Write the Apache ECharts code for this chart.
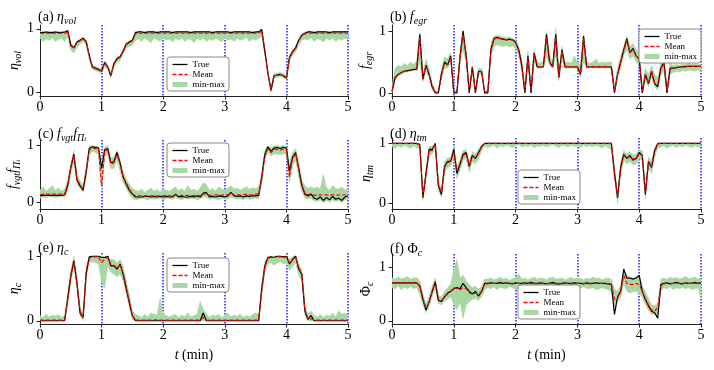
<!DOCTYPE html>
<html>
<head>
<meta charset="utf-8">
<script src="https://cdn.jsdelivr.net/npm/echarts@6/dist/echarts.min.js"></script>
<style>
  html, body { margin: 0; padding: 0; background: #fff; }
  #chart { width: 714px; height: 370px; }
</style>
</head>
<body>
<div id="chart"></div>
<script>
// time axis, minutes
const time = [
  0,0.05,0.1,0.15,0.2,0.25,0.3,0.35,0.4,0.45,
  0.5,0.55,0.6,0.65,0.7,0.75,0.8,0.85,0.9,0.95,
  1,1.05,1.1,1.15,1.2,1.25,1.3,1.35,1.4,1.45,
  1.5,1.55,1.6,1.65,1.7,1.75,1.8,1.85,1.9,1.95,
  2,2.05,2.1,2.15,2.2,2.25,2.3,2.35,2.4,2.45,
  2.5,2.55,2.6,2.65,2.7,2.75,2.8,2.85,2.9,2.95,
  3,3.05,3.1,3.15,3.2,3.25,3.3,3.35,3.4,3.45,
  3.5,3.55,3.6,3.65,3.7,3.75,3.8,3.85,3.9,3.95,
  4,4.05,4.1,4.15,4.2,4.25,4.3,4.35,4.4,4.45,
  4.5,4.55,4.6,4.65,4.7,4.75,4.8,4.85,4.9,4.95,5
];

// (a) eta_vol
const etaVolTrue = [
  0.94,0.94,0.95,0.94,0.94,0.95,0.94,0.94,0.95,0.97,
  0.74,0.7,0.79,0.82,0.85,0.8,0.58,0.4,0.38,0.36,
  0.33,0.47,0.4,0.26,0.45,0.53,0.56,0.65,0.76,0.79,
  0.82,0.94,0.95,0.95,0.94,0.95,0.95,0.95,0.94,0.95,
  0.95,0.95,0.95,0.94,0.95,0.95,0.95,0.95,0.95,0.94,
  0.95,0.95,0.95,0.95,0.95,0.95,0.94,0.95,0.95,0.95,
  0.95,0.95,0.94,0.95,0.95,0.95,0.95,0.95,0.95,0.94,
  0.95,0.95,0.99,0.65,0.3,0.03,0.26,0.27,0.28,0.26,
  0.22,0.55,0.64,0.7,0.82,0.9,0.93,0.95,0.95,0.94,
  0.95,0.95,0.95,0.95,0.94,0.95,0.95,0.95,0.95,0.95,0.95
];
const etaVolMean = [
  0.93,0.93,0.93,0.93,0.93,0.93,0.93,0.93,0.93,0.95,
  0.73,0.7,0.78,0.81,0.84,0.79,0.57,0.4,0.37,0.36,
  0.34,0.46,0.4,0.27,0.44,0.52,0.55,0.64,0.75,0.78,
  0.81,0.92,0.93,0.93,0.93,0.93,0.93,0.93,0.93,0.93,
  0.93,0.93,0.93,0.93,0.93,0.93,0.93,0.93,0.93,0.93,
  0.93,0.93,0.93,0.93,0.93,0.93,0.93,0.93,0.93,0.93,
  0.93,0.93,0.93,0.93,0.93,0.93,0.93,0.93,0.93,0.93,
  0.93,0.93,0.97,0.64,0.3,0.04,0.26,0.27,0.28,0.26,
  0.23,0.54,0.63,0.69,0.81,0.89,0.92,0.93,0.93,0.93,
  0.93,0.93,0.93,0.93,0.93,0.93,0.93,0.93,0.93,0.93,0.93
];
const etaVolMin = [
  0.85,0.8,0.84,0.82,0.86,0.8,0.83,0.85,0.8,0.88,
  0.66,0.62,0.7,0.76,0.8,0.74,0.5,0.36,0.34,0.32,
  0.3,0.4,0.35,0.22,0.4,0.48,0.5,0.6,0.7,0.72,
  0.74,0.82,0.84,0.8,0.86,0.82,0.78,0.85,0.83,0.8,
  0.86,0.82,0.84,0.79,0.85,0.82,0.86,0.8,0.84,0.83,
  0.78,0.85,0.82,0.86,0.8,0.84,0.81,0.85,0.83,0.79,
  0.86,0.82,0.84,0.8,0.85,0.82,0.83,0.87,0.8,0.84,
  0.82,0.85,0.88,0.58,0.25,0,0.22,0.24,0.25,0.23,
  0.2,0.48,0.58,0.64,0.75,0.82,0.84,0.82,0.86,0.8,
  0.84,0.83,0.79,0.85,0.82,0.86,0.8,0.84,0.82,0.85,0.83
];
const etaVolMax = [
  0.96,0.96,0.96,0.96,0.96,0.96,0.96,0.96,0.96,0.99,
  0.78,0.73,0.8,0.84,0.87,0.82,0.6,0.42,0.4,0.38,
  0.36,0.49,0.42,0.28,0.47,0.55,0.58,0.67,0.78,0.81,
  0.84,0.96,0.96,0.96,0.96,0.96,0.96,0.96,0.96,0.96,
  0.96,0.96,0.96,0.96,0.96,0.96,0.96,0.96,0.96,0.96,
  0.96,0.96,0.96,0.96,0.96,0.96,0.96,0.96,0.96,0.96,
  0.96,0.96,0.96,0.96,0.96,0.96,0.96,0.96,0.96,0.96,
  0.96,0.96,1,0.68,0.33,0.05,0.3,0.3,0.31,0.3,
  0.26,0.57,0.66,0.72,0.84,0.92,0.95,0.96,0.96,0.96,
  0.96,0.96,0.96,0.96,0.96,0.96,0.96,0.96,0.96,0.96,0.96
];

// (b) f_egr
const fEgrTrue = [
  0.02,0.25,0.3,0.33,0.35,0.36,0.37,0.38,0.38,0.95,
  0.22,0.45,0.3,0.1,0,0,0.3,0.5,0.45,0.6,
  0,0,0.58,1,0.6,0,0.42,0,0.35,0.35,
  0,0,0.7,0.88,0.9,0.88,0.87,0.86,0.87,0.86,
  0.82,0.7,0.45,0,0.6,0,0.65,0.42,0.42,0.42,
  0.95,0.5,0.42,0.95,0.25,0.7,0.42,0.42,0.42,0.42,
  0.42,0.3,0.92,0.42,0.42,0.42,0.42,0.42,0.42,0.42,
  0.42,0.42,0,0.3,0.5,0.7,0.88,0.65,0.72,0.6,
  0.55,0,0.3,0.15,0.35,0.15,0.1,0.4,0.5,0,
  0.4,0.4,0.41,0.42,0.42,0.43,0.43,0.43,0.43,0.43,0.43
];
const fEgrMean = [
  0.03,0.24,0.3,0.33,0.35,0.36,0.37,0.38,0.39,0.9,
  0.24,0.44,0.3,0.12,0.01,0.01,0.29,0.49,0.46,0.58,
  0.02,0.01,0.57,0.95,0.6,0.02,0.41,0.02,0.35,0.34,
  0.01,0.02,0.68,0.87,0.89,0.88,0.87,0.86,0.86,0.86,
  0.81,0.69,0.45,0.02,0.58,0.03,0.63,0.43,0.42,0.43,
  0.9,0.5,0.43,0.9,0.27,0.68,0.43,0.43,0.42,0.43,
  0.42,0.31,0.88,0.43,0.42,0.43,0.42,0.43,0.42,0.43,
  0.42,0.42,0.02,0.3,0.5,0.68,0.85,0.66,0.7,0.6,
  0.56,0.03,0.3,0.16,0.34,0.16,0.12,0.39,0.48,0.03,
  0.39,0.4,0.41,0.42,0.42,0.42,0.43,0.43,0.43,0.43,0.43
];
const fEgrMin = [
  0,0.2,0.28,0.3,0.33,0.34,0.35,0.36,0.36,0.5,
  0.18,0.35,0.25,0.05,0,0,0.22,0.4,0.4,0.5,
  0,0,0.5,0.7,0.5,0,0.35,0,0.3,0.3,
  0,0,0.6,0.75,0.78,0.76,0.75,0.77,0.74,0.76,
  0.72,0.6,0.35,0,0.45,0,0.5,0.4,0.4,0.41,
  0.6,0.45,0.4,0.6,0.2,0.55,0.4,0.4,0.41,0.4,
  0.4,0.25,0.5,0.4,0.41,0.4,0.41,0.4,0.41,0.4,
  0.41,0.38,0,0.25,0.4,0.6,0.7,0.55,0.6,0.5,
  0.45,0,0.2,0.1,0.25,0.1,0.05,0.3,0.35,0,
  0.3,0.33,0.35,0.34,0.36,0.35,0.37,0.36,0.35,0.37,0.36
];
const fEgrMax = [
  0.1,0.4,0.45,0.42,0.48,0.44,0.5,0.46,0.52,0.98,
  0.3,0.55,0.4,0.15,0.03,0.03,0.4,0.58,0.55,0.65,
  0.05,0.03,0.65,1.02,0.65,0.05,0.45,0.03,0.4,0.4,
  0.03,0.05,0.8,0.92,0.93,0.92,0.9,0.9,0.9,0.88,
  0.86,0.75,0.55,0.1,0.68,0.1,0.7,0.5,0.48,0.52,
  1,0.6,0.5,1.05,0.35,0.75,0.5,0.5,0.48,0.6,
  0.5,0.45,0.95,0.5,0.48,0.5,0.55,0.48,0.5,0.49,
  0.5,0.5,0.1,0.4,0.6,0.75,0.92,0.75,0.8,0.7,
  0.65,0.1,0.4,0.3,0.45,0.3,0.25,0.5,0.6,0.1,
  0.48,0.45,0.46,0.45,0.47,0.46,0.48,0.46,0.47,0.46,0.47
];

// (c) f_vgt f_Pi_t
const fvgtTrue = [
  0.12,0.13,0.13,0.13,0.13,0.13,0.13,0.13,0.14,0.3,
  0.62,0.85,0.4,0.3,0.22,0.55,0.95,0.98,0.97,0.96,
  0.6,0.93,0.95,0.7,0.72,0.88,0.7,0.45,0.33,0.22,
  0.15,0.1,0.1,0.1,0.11,0.11,0.1,0.11,0.1,0.11,
  0.1,0.11,0.1,0.1,0.15,0.1,0.11,0.1,0.1,0.11,
  0.1,0.12,0.1,0.17,0.18,0.1,0.11,0.1,0.12,0.11,
  0.1,0.12,0.18,0.12,0.11,0.12,0.1,0.12,0.11,0.12,
  0.12,0.13,0.45,0.85,0.98,0.9,0.96,0.97,0.95,0.97,
  0.96,0.55,0.8,0.88,0.6,0.3,0.15,0.12,0.15,0.08,
  0.06,0.1,0.04,0.09,0.05,0.11,0.06,0.08,0.04,0.1,0.12
];
const fvgtMean = [
  0.14,0.15,0.15,0.15,0.15,0.15,0.15,0.15,0.15,0.32,
  0.62,0.83,0.42,0.31,0.24,0.55,0.93,0.96,0.95,0.94,
  0.3,0.9,0.93,0.68,0.7,0.85,0.68,0.45,0.35,0.24,
  0.16,0.12,0.12,0.12,0.12,0.12,0.12,0.12,0.12,0.12,
  0.12,0.13,0.12,0.13,0.14,0.12,0.13,0.12,0.13,0.12,
  0.13,0.13,0.12,0.15,0.16,0.13,0.13,0.14,0.14,0.13,
  0.14,0.14,0.17,0.14,0.14,0.14,0.14,0.15,0.14,0.14,
  0.15,0.15,0.42,0.82,0.95,0.88,0.93,0.94,0.92,0.94,
  0.93,0.45,0.78,0.86,0.6,0.32,0.17,0.14,0.16,0.13,
  0.13,0.14,0.13,0.14,0.13,0.14,0.13,0.14,0.13,0.14,0.14
];
const fvgtMin = [
  0.08,0.1,0.09,0.11,0.1,0.09,0.1,0.11,0.1,0.2,
  0.52,0.72,0.32,0.25,0.18,0.45,0.85,0.9,0.88,0.85,
  0.2,0.82,0.85,0.6,0.6,0.75,0.55,0.35,0.25,0.15,
  0.08,0.05,0.06,0.08,0.07,0.05,0.08,0.06,0.07,0.08,
  0.05,0.07,0.08,0.06,0.09,0.07,0.05,0.08,0.06,0.07,
  0.08,0.05,0.07,0.1,0.1,0.06,0.08,0.07,0.05,0.08,
  0.06,0.07,0.1,0.08,0.06,0.07,0.05,0.08,0.06,0.07,
  0.08,0.07,0.35,0.75,0.88,0.82,0.86,0.85,0.84,0.86,
  0.85,0.35,0.65,0.75,0.45,0.2,0.08,0.07,0.08,0.03,
  0.02,0.05,0,0.04,0.01,0.05,0.02,0.04,0,0.05,0.06
];
const fvgtMax = [
  0.22,0.28,0.2,0.25,0.3,0.22,0.26,0.2,0.24,0.38,
  0.7,0.92,0.5,0.38,0.3,0.62,1,1,0.99,0.98,
  0.7,0.98,1,0.78,0.8,0.92,0.75,0.55,0.42,0.32,
  0.25,0.22,0.2,0.24,0.18,0.22,0.26,0.2,0.23,0.19,
  0.25,0.22,0.2,0.24,0.28,0.21,0.25,0.2,0.3,0.22,
  0.24,0.2,0.26,0.35,0.32,0.22,0.25,0.2,0.28,0.24,
  0.22,0.26,0.3,0.24,0.26,0.22,0.25,0.28,0.24,0.26,
  0.25,0.27,0.55,0.92,1,0.96,1,1,0.99,1,
  0.99,0.7,0.88,0.95,0.7,0.4,0.3,0.25,0.28,0.25,
  0.28,0.24,0.5,0.26,0.22,0.3,0.25,0.24,0.28,0.22,0.26
];

// (d) eta_tm
const etaTmTrue = [
  1,1,1,1,1,1,1,1,1,0.98,
  0.1,0.5,0.9,0.9,1,0.3,0.15,0.62,0.7,0.7,
  0.9,0.5,0.65,0.82,0.85,0.62,0.8,0.75,0.85,0.95,
  1,1,1,1,1,1,1,1,1,1,
  1,1,1,1,1,1,1,1,1,1,
  1,1,1,1,1,1,1,1,1,1,
  1,1,1,1,1,1,1,1,1,1,
  1,1,0.5,0.1,0.6,0.82,0.75,0.8,0.72,0.75,
  0.85,0.8,0.15,0.7,0.6,0.88,1,1,1,1,
  1,1,1,1,1,1,1,1,1,1,1
];
const etaTmMean = [
  1,1,1,1,1,1,1,1,1,0.97,
  0.12,0.48,0.88,0.88,0.99,0.32,0.18,0.6,0.68,0.7,
  0.85,0.55,0.66,0.8,0.83,0.64,0.78,0.76,0.83,0.94,
  1,1,1,1,1,1,1,1,1,1,
  1,1,1,1,1,1,1,1,1,1,
  1,1,1,1,1,1,1,1,1,1,
  1,1,1,1,1,1,1,1,1,1,
  1,1,0.52,0.12,0.58,0.8,0.76,0.78,0.74,0.75,
  0.82,0.8,0.18,0.68,0.62,0.86,0.99,1,1,1,
  1,1,1,1,1,1,1,1,1,1,1
];
const etaTmMin = [
  0.95,0.92,0.96,0.93,0.97,0.94,0.92,0.96,0.93,0.9,
  0.05,0.4,0.8,0.82,0.92,0.22,0.1,0.52,0.6,0.62,
  0.78,0.42,0.55,0.72,0.75,0.52,0.7,0.66,0.75,0.88,
  0.96,0.93,0.95,0.97,0.92,0.96,0.94,0.97,0.95,0.93,
  0.96,0.98,0.94,0.96,0.95,0.97,0.93,0.96,0.95,0.97,
  0.94,0.96,0.98,0.95,0.93,0.97,0.96,0.94,0.97,0.95,
  0.96,0.93,0.97,0.95,0.96,0.94,0.97,0.95,0.92,0.96,
  0.93,0.9,0.4,0,0.5,0.72,0.66,0.7,0.64,0.66,
  0.75,0.7,0.08,0.6,0.5,0.78,0.92,0.94,0.96,0.92,
  0.95,0.97,0.93,0.96,0.94,0.97,0.95,0.93,0.96,0.94,0.95
];
const etaTmMax = [
  1,1,1,1,1,1,1,1,1,1,
  0.15,0.58,0.95,0.95,1,0.38,0.25,0.7,0.76,0.76,
  0.95,0.62,0.72,0.88,0.9,0.7,0.86,0.82,0.9,0.98,
  1,1,1,1,1,1,1,1,1,1,
  1,1,1,1,1,1,1,1,1,1,
  1,1,1,1,1,1,1,1,1,1,
  1,1,1,1,1,1,1,1,1,1,
  1,1,0.6,0.18,0.68,0.88,0.82,0.86,0.8,0.82,
  0.9,0.88,0.25,0.78,0.7,0.94,1,1,1,1,
  1,1,1,1,1,1,1,1,1,1,1
];

// (e) eta_c
const etaCTrue = [
  0,0,0,0,0,0,0,0,0,0.35,
  0.7,0.93,0.58,0.12,0.05,0.75,0.99,1,1,1,
  0.98,0.98,1,0.85,0.85,0.8,0.88,0.72,0.5,0.28,
  0.08,0,0,0,0,0,0,0,0,0,
  0,0,0,0,0,0,0,0,0,0,
  0,0,0,0.12,0,0,0,0,0,0,
  0,0,0,0,0,0,0,0,0,0,
  0,0,0.5,0.85,0.98,0.99,0.98,1,1,0.99,
  1,0.88,0.95,1,0.8,0.72,0.15,0.02,0.08,0,
  0,0,0,0,0,0,0,0,0,0,0
];
const etaCMean = [
  0.01,0.01,0.01,0.01,0.01,0.01,0.01,0.01,0.01,0.33,
  0.68,0.91,0.58,0.15,0.05,0.72,0.97,0.99,0.99,0.99,
  0.9,0.96,0.98,0.88,0.86,0.82,0.86,0.74,0.52,0.3,
  0.08,0.01,0.01,0.01,0.01,0.01,0.01,0.01,0.02,0.01,
  0.01,0.01,0.01,0.01,0.01,0.01,0.01,0.01,0.01,0.01,
  0.01,0.01,0.01,0.05,0.01,0.01,0.01,0.01,0.01,0.01,
  0.01,0.01,0.01,0.01,0.01,0.01,0.01,0.01,0.01,0.01,
  0.01,0.01,0.48,0.83,0.97,0.98,0.98,0.99,0.99,0.98,
  0.99,0.9,0.94,0.99,0.82,0.73,0.17,0.03,0.03,0.01,
  0.01,0.01,0.01,0.01,0.01,0.01,0.01,0.01,0.01,0.01,0.01
];
const etaCMin = [
  0,0,0,0,0,0,0,0,0,0.25,
  0.6,0.85,0.5,0.08,0,0.65,0.9,0.92,0.9,0.88,
  0.6,0.5,0.85,0.75,0.72,0.68,0.72,0.62,0.42,0.2,
  0.02,0,0,0,0,0,0,0,0,0,
  0,0,0,0,0,0,0,0,0,0,
  0,0,0,0,0,0,0,0,0,0,
  0,0,0,0,0,0,0,0,0,0,
  0,0,0.38,0.75,0.88,0.9,0.86,0.9,0.92,0.88,
  0.9,0.78,0.85,0.9,0.7,0.62,0.08,0,0,0,
  0,0,0,0,0,0,0,0,0,0,0
];
const etaCMax = [
  0.08,0.05,0.1,0.06,0.09,0.07,0.1,0.05,0.08,0.42,
  0.78,1,0.68,0.22,0.12,0.82,1,1,1,1,
  1,1,1,0.95,0.95,0.9,0.95,0.85,0.62,0.4,
  0.15,0.1,0.08,0.05,0.1,0.06,0.12,0.1,0.09,0.35,
  0.1,0.08,0.06,0.08,0.1,0.05,0.09,0.07,0.12,0.06,
  0.08,0.1,0.3,0.18,0.1,0.06,0.09,0.07,0.1,0.05,
  0.08,0.12,0.06,0.09,0.07,0.1,0.05,0.08,0.06,0.1,
  0.12,0.1,0.6,0.92,1,1,1,1,1,1,
  1,0.95,1,1,0.88,0.8,0.25,0.1,0.15,0.08,
  0.06,0.1,0.05,0.09,0.07,0.12,0.06,0.15,0.1,0.12,0.08
];

// (f) Phi_c
const phiCTrue = [
  0.71,0.71,0.71,0.71,0.71,0.71,0.71,0.71,0.71,0.65,
  0.4,0.2,0.35,0.55,0.72,0.38,0.36,0.45,0.52,0.55,
  0.6,0.62,0.6,0.7,0.62,0.55,0.5,0.55,0.46,0.55,
  0.7,0.7,0.71,0.7,0.7,0.72,0.7,0.71,0.7,0.69,
  0.71,0.7,0.7,0.71,0.7,0.72,0.7,0.7,0.71,0.7,
  0.69,0.7,0.72,0.7,0.68,0.7,0.71,0.7,0.7,0.71,
  0.7,0.7,0.69,0.71,0.7,0.7,0.71,0.7,0.7,0.7,
  0.69,0.68,0.12,0.45,0.55,0.97,0.8,0.8,0.78,0.8,
  0.85,0.55,0.4,0.28,0.18,0.15,0.05,0.68,0.7,0.71,
  0.69,0.7,0.72,0.7,0.69,0.71,0.7,0.7,0.72,0.7,0.71
];
const phiCMean = [
  0.71,0.71,0.71,0.71,0.71,0.71,0.71,0.71,0.71,0.66,
  0.42,0.24,0.35,0.55,0.74,0.4,0.38,0.45,0.5,0.55,
  0.62,0.6,0.58,0.62,0.6,0.52,0.5,0.52,0.5,0.55,
  0.68,0.69,0.7,0.7,0.7,0.7,0.7,0.7,0.7,0.7,
  0.7,0.7,0.69,0.7,0.7,0.7,0.7,0.69,0.7,0.7,
  0.7,0.7,0.7,0.69,0.7,0.7,0.7,0.7,0.69,0.7,
  0.7,0.7,0.7,0.7,0.69,0.7,0.7,0.7,0.7,0.69,
  0.7,0.68,0.4,0.42,0.55,0.85,0.7,0.68,0.68,0.7,
  0.68,0.55,0.42,0.3,0.2,0.18,0.25,0.65,0.69,0.7,
  0.7,0.7,0.7,0.7,0.7,0.7,0.7,0.7,0.7,0.7,0.7
];
const phiCMin = [
  0.62,0.6,0.65,0.58,0.63,0.6,0.64,0.6,0.62,0.5,
  0.3,0.15,0.28,0.45,0.6,0.32,0.3,0.38,0.4,0.45,
  0.3,0.2,0.35,0.05,0.3,0.35,0.4,0.42,0.38,0.45,
  0.58,0.62,0.6,0.64,0.58,0.63,0.61,0.6,0.64,0.62,
  0.58,0.6,0.5,0.62,0.6,0.64,0.6,0.58,0.62,0.6,
  0.64,0.61,0.6,0.59,0.6,0.63,0.6,0.64,0.6,0.58,
  0.62,0.6,0.64,0.61,0.6,0.63,0.58,0.6,0.62,0.6,
  0.58,0.55,0.25,0.35,0.45,0.7,0.55,0.52,0.55,0.55,
  0.5,0.45,0.3,0.2,0.12,0.12,0.12,0.55,0.62,0.6,
  0.64,0.58,0.62,0.6,0.63,0.6,0.62,0.58,0.6,0.62,0.4
];
const phiCMax = [
  0.8,0.78,0.82,0.79,0.8,0.83,0.78,0.8,0.81,0.75,
  0.5,0.32,0.45,0.65,0.8,0.48,0.45,0.55,0.62,0.68,
  0.95,1.15,0.8,0.85,0.75,0.68,0.62,0.65,0.58,0.65,
  0.78,0.78,0.8,0.77,0.79,0.82,0.78,0.8,0.76,0.79,
  0.81,0.88,0.78,0.8,0.77,0.79,0.82,0.78,0.8,0.79,
  0.77,0.8,0.82,0.78,0.79,0.8,0.77,0.79,0.81,0.78,
  0.8,0.79,0.77,0.8,0.78,0.82,0.79,0.8,0.77,0.79,
  0.8,0.78,0.6,0.55,0.65,0.95,0.85,0.82,0.8,0.82,
  0.85,0.65,0.55,0.42,0.3,0.28,0.3,0.78,0.8,0.78,
  0.82,0.79,0.81,0.78,0.8,0.83,0.79,0.8,0.82,0.78,0.8
];

const xTicks = [0, 1, 2, 3, 4, 5];
const yTicks = [0, 1];
const legendNames = ['True', 'Mean', 'min-max'];

const titleTexts = [
  '{n|(a) }{i|η}{s|vol}',
  '{n|(b) }{i|f}{s|egr}',
  '{n|(c) }{i|f}{s|vgt}{i|f}{s|Π}{ss|t}',
  '{n|(d) }{i|η}{s|tm}',
  '{n|(e) }{i|η}{s|c}',
  '{n|(f) }{n|Φ}{s|c}'
];
const yNames = [
  '{i|η}{s|vol}',
  '{i|f}{s|egr}',
  '{i|f}{s|vgt}{i|f}{s|Π}{ss|t}',
  '{i|η}{s|tm}',
  '{i|η}{s|c}',
  '{n|Φ}{s|c}'
];

const panels = [
  { tr: etaVolTrue, mn: etaVolMean, lo: etaVolMin, hi: etaVolMax },
  { tr: fEgrTrue, mn: fEgrMean, lo: fEgrMin, hi: fEgrMax },
  { tr: fvgtTrue, mn: fvgtMean, lo: fvgtMin, hi: fvgtMax },
  { tr: etaTmTrue, mn: etaTmMean, lo: etaTmMin, hi: etaTmMax },
  { tr: etaCTrue, mn: etaCMean, lo: etaCMin, hi: etaCMax },
  { tr: phiCTrue, mn: phiCMean, lo: phiCMin, hi: phiCMax }
];

// layout
const grids = [
  { left: 40, top: 25, width: 308, height: 71 },
  { left: 392, top: 25, width: 309, height: 71 },
  { left: 40, top: 140, width: 308, height: 69 },
  { left: 392, top: 138, width: 309, height: 71 },
  { left: 40, top: 253, width: 308, height: 71 },
  { left: 392, top: 254, width: 309, height: 70 }
];
const yRanges = [[-0.06, 1.06], [-0.05, 1.1], [-0.11, 1.1], [-0.09, 1.09], [-0.05, 1.05], [-0.06, 1.25]];
const yNameGaps = [13, 18, 18, 13, 12, 16];
const titlePos = [[38, 8], [390, 8], [38, 125], [390, 125], [38, 239], [390, 240]];
const legendPos = [[167, 57], [639, 29], [167, 143], [518, 170], [167, 258], [518, 285]];

const SERIF = "'Liberation Serif', 'DejaVu Serif', serif";
const BAND = '#a9d7a3';
const rich = {
  n: { fontFamily: SERIF, fontSize: 14, fontWeight: 'normal', lineHeight: 18, color: '#000' },
  i: { fontFamily: SERIF, fontSize: 14, fontWeight: 'normal', fontStyle: 'italic', lineHeight: 18, color: '#000' },
  s: { fontFamily: SERIF, fontSize: 10, fontWeight: 'normal', fontStyle: 'italic', verticalAlign: 'bottom', color: '#000' },
  ss: { fontFamily: SERIF, fontSize: 7, fontWeight: 'normal', fontStyle: 'italic', verticalAlign: 'bottom', color: '#000' }
};

const xAxes = [], yAxes = [], series = [], titles = [], legends = [];

panels.forEach((p, k) => {
  const bottomRow = k >= 4;
  xAxes.push({
    type: 'value', gridIndex: k, min: 0, max: 5, interval: 1,
    axisLine: { onZero: false, lineStyle: { color: '#222', width: 1 } },
    axisTick: { length: 3.5, lineStyle: { color: '#222' } },
    axisLabel: { fontFamily: SERIF, fontSize: 14, color: '#000', margin: 4,
      customValues: xTicks },
    splitLine: { show: true, showMinLine: false,
      lineStyle: { color: ['#2a2aff'], type: [1.5, 1.5], width: 1.6 } },
    name: bottomRow ? '{i|t} {n|(min)}' : '',
    nameLocation: 'middle', nameGap: 22,
    nameTextStyle: { rich: rich }
  });
  yAxes.push({
    type: 'value', gridIndex: k, min: yRanges[k][0], max: yRanges[k][1],
    axisLine: { show: true, lineStyle: { color: '#222', width: 1 } },
    axisTick: { show: true, length: 3.5, customValues: yTicks, lineStyle: { color: '#222' } },
    axisLabel: { fontFamily: SERIF, fontSize: 14, color: '#000', margin: 6, customValues: yTicks },
    splitLine: { show: false },
    name: yNames[k], nameLocation: 'middle', nameRotate: 90, nameGap: yNameGaps[k],
    nameTextStyle: { rich: rich }
  });
  titles.push({
    text: titleTexts[k], left: titlePos[k][0], top: titlePos[k][1], padding: 0,
    textStyle: { fontWeight: 'normal', rich: rich }
  });
  legends.push({
    left: legendPos[k][0], top: legendPos[k][1], orient: 'vertical',
    data: [
      { name: legendNames[0] },
      { name: legendNames[1] },
      { name: legendNames[2], lineStyle: { color: BAND, width: 5, opacity: 1, type: 'solid' } }
    ],
    backgroundColor: '#fff', borderColor: '#888', borderWidth: 1, borderRadius: 3,
    padding: [3, 4, 2, 3], itemGap: 1, itemWidth: 15, itemHeight: 10,
    itemStyle: { opacity: 0 },
    lineStyle: { width: 1.3 },
    textStyle: { fontFamily: SERIF, fontSize: 9, color: '#000' },
    selectedMode: false
  });

  const pts = arr => time.map((t, i) => [t, arr[i]]);
  // min-max envelope drawn as one polygon through the axis scales
  series.push({
    name: 'band', type: 'custom', xAxisIndex: k, yAxisIndex: k,
    data: [[time[0], p.lo[0]]], clip: true, silent: true, z: 1,
    renderItem: (params, api) => {
      const upper = time.map((t, i) => api.coord([t, p.hi[i]]));
      const lower = time.map((t, i) => api.coord([t, p.lo[i]])).reverse();
      return {
        type: 'polygon',
        shape: { points: upper.concat(lower) },
        style: { fill: BAND, stroke: BAND, lineWidth: 0.6 }
      };
    }
  });
  // empty line series only for the legend entry
  series.push({
    name: legendNames[2], type: 'line', xAxisIndex: k, yAxisIndex: k,
    data: [], symbol: 'none', itemStyle: { color: BAND },
    lineStyle: { color: BAND, width: 5 }
  });
  series.push({
    name: legendNames[0], type: 'line', xAxisIndex: k, yAxisIndex: k,
    data: pts(p.tr), symbol: 'none', itemStyle: { color: '#000' },
    lineStyle: { color: '#000', width: 1.2 }, z: 2
  });
  series.push({
    name: legendNames[1], type: 'line', xAxisIndex: k, yAxisIndex: k,
    data: pts(p.mn), symbol: 'none', itemStyle: { color: '#ff0000' },
    lineStyle: { color: '#ff0000', width: 1.2, type: [4, 2] }, z: 3
  });
});

const chart = echarts.init(document.getElementById('chart'));
chart.setOption({
  animation: false,
  backgroundColor: '#fff',
  title: titles,
  legend: legends,
  grid: grids,
  xAxis: xAxes,
  yAxis: yAxes,
  series: series
});
</script>
</body>
</html>
